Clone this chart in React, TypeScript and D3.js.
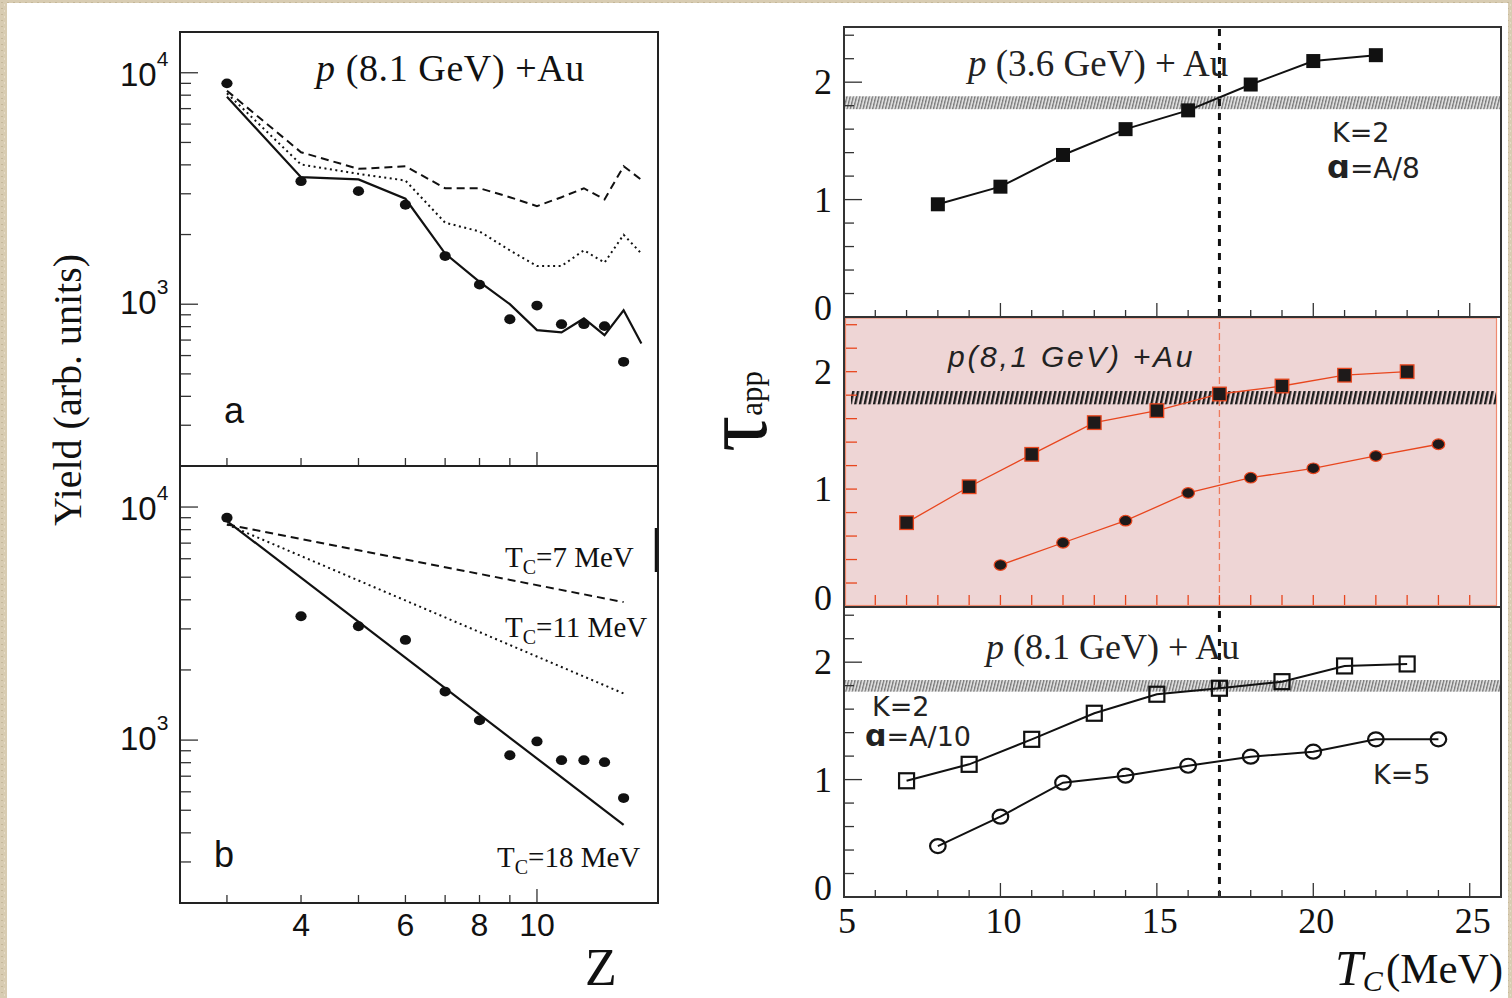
import React from "react";
import * as d3 from "d3";

// ---------- Left figure: fragment yields vs Z ----------
const zData = [3, 4, 5, 6, 7, 8, 9, 10, 11, 12, 13, 14];
const yieldData = [9000, 3400, 3080, 2690, 1615, 1215, 861, 987, 820, 820, 804, 564];
const zModel = [3, 4, 5, 6, 7, 8, 9, 10, 11, 12, 13, 14, 15];
const yieldSolidA = [7880, 3540, 3460, 2855, 1655, 1250, 1000, 773, 755, 868, 735, 942, 677];
const yieldDashedA = [8360, 4535, 3845, 3945, 3170, 3170, 2900, 2654, 2900, 3170, 2835, 3945, 3448];
const yieldDottedA = [8150, 4013, 3658, 3422, 2250, 2063, 1710, 1462, 1462, 1710, 1513, 1996, 1655];
const zFit = [3, 14];
const fitTc18 = [8710, 433];
const fitTc11 = [8420, 1585];
const fitTc7 = [8420, 3910];
const zTicks = [3, 4, 5, 6, 7, 8, 9, 10];
const zTickLabels = [4, 6, 8, 10];
const yieldMajor = [1000, 10000];
const yieldMinor = [300, 400, 500, 600, 700, 800, 900, 2000, 3000, 4000, 5000, 6000, 7000, 8000, 9000];

// ---------- Right figure: tau_app vs Tc ----------
const tc36 = [8, 10, 12, 14, 16, 18, 20, 22];
const tau36 = [0.96, 1.11, 1.38, 1.6, 1.76, 1.98, 2.18, 2.23];
const band36 = [1.77, 1.88];
const tc81Sq = [7, 9, 11, 13, 15, 17, 19, 21, 23];
const tau81Sq = [0.714, 1.02, 1.296, 1.566, 1.668, 1.81, 1.878, 1.97, 2.0];
const tc81Ci = [10, 12, 14, 16, 18, 20, 22, 24];
const tau81Ci = [0.353, 0.543, 0.731, 0.967, 1.097, 1.177, 1.282, 1.382];
const band81 = [1.722, 1.835];
const tcK2 = [7, 9, 11, 13, 15, 17, 19, 21, 23];
const tauK2 = [0.99, 1.13, 1.343, 1.565, 1.727, 1.778, 1.834, 1.968, 1.985];
const tcK5 = [8, 10, 12, 14, 16, 18, 20, 22, 24];
const tauK5 = [0.434, 0.684, 0.974, 1.033, 1.118, 1.195, 1.238, 1.343, 1.343];
const bandBottom = [1.749, 1.848];
const tcCritical = 17;
const tcTicks = [6, 7, 8, 9, 10, 11, 12, 13, 14, 15, 16, 17, 18, 19, 20, 21, 22, 23, 24, 25];
const tcMajor = [10, 15, 20, 25];
const tcLabels = [5, 10, 15, 20, 25];
const tauTicks = [0.2, 0.4, 0.6, 0.8, 1, 1.2, 1.4, 1.6, 1.8, 2, 2.2, 2.4];
const tauLabels = [0, 1, 2];

const fSerif = "'Liberation Serif', 'Times New Roman', serif";
const fSans = "'Liberation Sans', Arial, sans-serif";
const fGothic = "'DejaVu Sans', sans-serif";
const ORANGE = "#e8461e";

export default function App() {
  // left scales
  const xL = d3.scaleLog().domain([2.5, 16]).range([180, 658]);
  const yTopL = d3.scaleLog().domain([200, 15000]).range([466, 32]);
  const yBotL = d3.scaleLog().domain([200, 15000]).range([903, 466]);
  // right scales
  const xR = d3.scaleLinear().domain([5, 26]).range([844, 1501]);
  const panelTops = [27, 316.5, 607];
  const PH = 290;
  const yR = panelTops.map((t) => d3.scaleLinear().domain([0, 2.47]).range([t + PH, t]));

  const lineLog = (xs: number[], ys: number[], ys_: d3.ScaleLogarithmic<number, number>) =>
    d3.line<number>().x((_, i) => xL(xs[i])).y((d) => ys_(d))(ys) || "";
  const lineLin = (xs: number[], ys: number[], s: d3.ScaleLinear<number, number>) =>
    d3.line<number>().x((_, i) => xR(xs[i])).y((d) => s(d))(ys) || "";

  const leftPanels = [
    { y: yTopL, top: 32, bottom: 466 },
    { y: yBotL, top: 466, bottom: 903 },
  ];

  const sup = (base: string, exp: string, x: number, y: number, key: string) => (
    <text key={key} x={x} y={y} fontFamily={fSans} fontSize={33} fill="#111">
      {base}
      <tspan dy={-20} fontSize={21}>{exp}</tspan>
    </text>
  );

  return (
    <svg width={1512} height={998} style={{ position: "absolute", left: 0, top: 0 }}>
      <defs>
        <pattern id="paper" patternUnits="userSpaceOnUse" width="6" height="6">
          <rect width="6" height="6" fill="#d8ccb2" />
          <rect x="1" y="2" width="2" height="1" fill="#c4b799" />
          <rect x="4" y="4" width="1" height="2" fill="#e6dcc6" />
        </pattern>
        <pattern id="hatchLight" patternUnits="userSpaceOnUse" width="3.2" height="20" patternTransform="skewX(-14)">
          <rect width="3.2" height="20" fill="#dedede" />
          <rect width="1.3" height="20" fill="#777" />
        </pattern>
        <pattern id="hatchBold" patternUnits="userSpaceOnUse" width="4.7" height="20" patternTransform="skewX(-12)">
          <rect width="2.4" height="20" fill="#1b1b1b" />
        </pattern>
      </defs>

      {/* background */}
      <rect x={0} y={0} width={1512} height={998} fill="url(#paper)" />
      <rect x={7} y={3} width={1501} height={995} fill="#ffffff" />

      {/* ================= LEFT FIGURE ================= */}
      <path d={lineLog(zModel, yieldDashedA, yTopL)} fill="none" stroke="#111" strokeWidth={2} strokeDasharray="8,5" />
      <path d={lineLog(zModel, yieldDottedA, yTopL)} fill="none" stroke="#111" strokeWidth={2} strokeDasharray="2,3.5" />
      <path d={lineLog(zModel, yieldSolidA, yTopL)} fill="none" stroke="#111" strokeWidth={2.2} />
      <path d={lineLog(zFit, fitTc7, yBotL)} fill="none" stroke="#111" strokeWidth={2} strokeDasharray="8,5" />
      <path d={lineLog(zFit, fitTc11, yBotL)} fill="none" stroke="#111" strokeWidth={2} strokeDasharray="2,3.5" />
      <path d={lineLog(zFit, fitTc18, yBotL)} fill="none" stroke="#111" strokeWidth={2.2} />
      {leftPanels.map((p, pi) =>
        zData.map((z, i) => (
          <ellipse key={`pt${pi}-${i}`} cx={xL(z)} cy={p.y(yieldData[i])} rx={5.6} ry={4.9} fill="#111" />
        ))
      )}
      {leftPanels.map((p, pi) => (
        <g key={`lt${pi}`} stroke="#333" strokeWidth={1.3}>
          {yieldMajor.map((v) => (
            <line key={`M${v}`} x1={180} x2={198} y1={p.y(v)} y2={p.y(v)} />
          ))}
          {yieldMinor.map((v) => (
            <line key={`m${v}`} x1={180} x2={191} y1={p.y(v)} y2={p.y(v)} />
          ))}
          {zTicks.map((z) => (
            <line key={`z${z}`} x1={xL(z)} x2={xL(z)} y1={p.bottom} y2={p.bottom - (z === 10 ? 14 : 8)} />
          ))}
        </g>
      ))}
      <rect x={180} y={32} width={478} height={871} fill="none" stroke="#222" strokeWidth={2} />
      <line x1={180} x2={658} y1={466} y2={466} stroke="#222" strokeWidth={2} />
      <line x1={656} x2={656} y1={528} y2={572} stroke="#111" strokeWidth={2.5} />
      {leftPanels.map((p, pi) => (
        <g key={`yl${pi}`}>
          {sup("10", "4", 120, p.y(10000) + 13, `a${pi}`)}
          {sup("10", "3", 120, p.y(1000) + 10, `b${pi}`)}
        </g>
      ))}
      {zTickLabels.map((z) => (
        <text key={`zl${z}`} x={xL(z)} y={936} textAnchor="middle" fontFamily={fSans} fontSize={32} fill="#111">
          {z}
        </text>
      ))}
      <text x={601} y={985} textAnchor="middle" fontFamily={fSerif} fontSize={52} fill="#111">Z</text>
      <text transform="translate(81,390) rotate(-90)" textAnchor="middle" fontFamily={fSerif} fontSize={40} fill="#111">
        Yield (arb. units)
      </text>
      <text x={316} y={81} fontFamily={fSerif} fontSize={38} letterSpacing={0.6} fill="#111">
        <tspan fontStyle="italic">p</tspan> (8.1 GeV) +Au
      </text>
      <text x={224} y={423} fontFamily={fSans} fontSize={36} fill="#111">a</text>
      <text x={214} y={867} fontFamily={fSans} fontSize={36} fill="#111">b</text>
      <text x={505} y={567} fontFamily={fSerif} fontSize={29} fill="#111">
        T<tspan fontSize={20} dy={7}>C</tspan><tspan dy={-7}>=7 MeV</tspan>
      </text>
      <text x={505} y={637} fontFamily={fSerif} fontSize={29} fill="#111">
        T<tspan fontSize={20} dy={7}>C</tspan><tspan dy={-7}>=11 MeV</tspan>
      </text>
      <text x={497} y={867} fontFamily={fSerif} fontSize={29} fill="#111">
        T<tspan fontSize={20} dy={7}>C</tspan><tspan dy={-7}>=18 MeV</tspan>
      </text>

      {/* ================= RIGHT FIGURE ================= */}
      <rect x={845.5} y={318} width={651} height={287.5} fill="#eed5d5" stroke="#f08a70" strokeWidth={1.2} />
      <rect x={845} y={yR[0](band36[1])} width={655} height={yR[0](band36[0]) - yR[0](band36[1])} fill="url(#hatchLight)" />
      <rect x={851} y={yR[1](band81[1])} width={645} height={yR[1](band81[0]) - yR[1](band81[1])} fill="url(#hatchBold)" />
      <rect x={845} y={yR[2](bandBottom[1])} width={655} height={yR[2](bandBottom[0]) - yR[2](bandBottom[1])} fill="url(#hatchLight)" />

      <line x1={xR(tcCritical)} x2={xR(tcCritical)} y1={29} y2={316} stroke="#111" strokeWidth={3} strokeDasharray="7,7" />
      <line x1={xR(tcCritical)} x2={xR(tcCritical)} y1={322} y2={600} stroke="#ee7a5c" strokeWidth={1.3} strokeDasharray="7,4" />
      <line x1={xR(tcCritical)} x2={xR(tcCritical)} y1={611} y2={896} stroke="#111" strokeWidth={3} strokeDasharray="7,7" />

      {[0, 2].map((pi) => (
        <g key={`rt${pi}`} stroke="#333" strokeWidth={1.3}>
          {tauTicks.map((v) => (
            <line key={v} x1={844} x2={844 + (v === 1 || v === 2 ? 18 : 10)} y1={yR[pi](v)} y2={yR[pi](v)} />
          ))}
          {tcTicks.map((t) => (
            <line key={`x${t}`} x1={xR(t)} x2={xR(t)} y1={panelTops[pi] + PH} y2={panelTops[pi] + PH - (tcMajor.includes(t) ? 14 : 7)} />
          ))}
        </g>
      ))}
      <g stroke={ORANGE} strokeWidth={1.3}>
        {tauTicks.map((v) => (
          <line key={v} x1={846} x2={857} y1={yR[1](v)} y2={yR[1](v)} />
        ))}
        {tcTicks.map((t) => (
          <line key={`x${t}`} x1={xR(t)} x2={xR(t)} y1={605} y2={595} />
        ))}
      </g>

      <path d={lineLin(tc36, tau36, yR[0])} fill="none" stroke="#111" strokeWidth={2} />
      {tc36.map((t, i) => (
        <rect key={`s36${i}`} x={xR(t) - 7} y={yR[0](tau36[i]) - 7} width={14} height={14} fill="#111" />
      ))}

      <path d={lineLin(tc81Sq, tau81Sq, yR[1])} fill="none" stroke={ORANGE} strokeWidth={1.3} />
      <path d={lineLin(tc81Ci, tau81Ci, yR[1])} fill="none" stroke={ORANGE} strokeWidth={1.3} />
      {tc81Sq.map((t, i) => (
        <rect key={`s81${i}`} x={xR(t) - 6.8} y={yR[1](tau81Sq[i]) - 6.8} width={13.6} height={13.6} fill="#1e1a1a" stroke={ORANGE} strokeWidth={1.3} />
      ))}
      {tc81Ci.map((t, i) => (
        <ellipse key={`c81${i}`} cx={xR(t)} cy={yR[1](tau81Ci[i])} rx={6.3} ry={5.3} fill="#1e1a1a" stroke={ORANGE} strokeWidth={1.2} />
      ))}

      <path d={lineLin(tcK2, tauK2, yR[2])} fill="none" stroke="#111" strokeWidth={2} />
      <path d={lineLin(tcK5, tauK5, yR[2])} fill="none" stroke="#111" strokeWidth={2} />
      {tcK2.map((t, i) => (
        <rect key={`k2${i}`} x={xR(t) - 7.5} y={yR[2](tauK2[i]) - 7.5} width={15} height={15} fill="#fff" fillOpacity={0} stroke="#111" strokeWidth={2.2} />
      ))}
      {tcK5.map((t, i) => (
        <ellipse key={`k5${i}`} cx={xR(t)} cy={yR[2](tauK5[i])} rx={7.8} ry={7} fill="none" stroke="#111" strokeWidth={2.2} />
      ))}

      <rect x={844} y={27} width={657} height={870} fill="none" stroke="#333" strokeWidth={2} />
      <line x1={844} x2={1501} y1={317} y2={317} stroke="#333" strokeWidth={2} />
      <line x1={844} x2={1501} y1={607} y2={607} stroke="#333" strokeWidth={2} />

      {[0, 1, 2].map((pi) =>
        tauLabels.map((v) => (
          <text key={`tl${pi}-${v}`} x={832} y={yR[pi](v) + (v === 0 ? 3 : 12)} textAnchor="end" fontFamily={fSerif} fontSize={36} fill="#111">
            {v}
          </text>
        ))
      )}
      {tcLabels.map((t) => (
        <text key={`tc${t}`} x={xR(t) + 3} y={933} textAnchor="middle" fontFamily={fSerif} fontSize={36} fill="#111">
          {t}
        </text>
      ))}
      <text x={1335} y={985} fontFamily={fSerif} fontSize={50} fontStyle="italic" fill="#111">
        T<tspan fontSize={30} dy={6}>C</tspan>
      </text>
      <text x={1386} y={983} fontFamily={fSerif} fontSize={43} fill="#111">(MeV)</text>
      <text transform="translate(766,452) rotate(-90)" fontFamily={fSerif} fontSize={90} fill="#111">
        τ<tspan fontSize={31} dy={-4}>app</tspan>
      </text>

      <text x={968} y={76} fontFamily={fSerif} fontSize={37} fill="#222">
        <tspan fontStyle="italic">p</tspan> (3.6 GeV) + Au
      </text>
      <text x={1332} y={142} fontFamily={fGothic} fontSize={27} fill="#222">K=2</text>
      <text x={1327} y={178} fontFamily={fGothic} fontSize={28} fill="#222">
        <tspan fontSize={32} fontWeight="bold">ɑ</tspan>=A/8
      </text>
      <text x={948} y={367} fontFamily={fSans} fontSize={30} fontStyle="italic" letterSpacing={2.7} fill="#222">
        p(8,1 GeV) +Au
      </text>
      <text x={986} y={659} fontFamily={fSerif} fontSize={36} fill="#222">
        <tspan fontStyle="italic">p</tspan> (8.1 GeV) + Au
      </text>
      <text x={872} y={716} fontFamily={fGothic} fontSize={27} fill="#222">K=2</text>
      <text x={865} y={746} fontFamily={fGothic} fontSize={27} fill="#222">
        <tspan fontSize={30} fontWeight="bold">ɑ</tspan>=A/10
      </text>
      <text x={1373} y={784} fontFamily={fGothic} fontSize={27} fill="#222">K=5</text>
    </svg>
  );
}
